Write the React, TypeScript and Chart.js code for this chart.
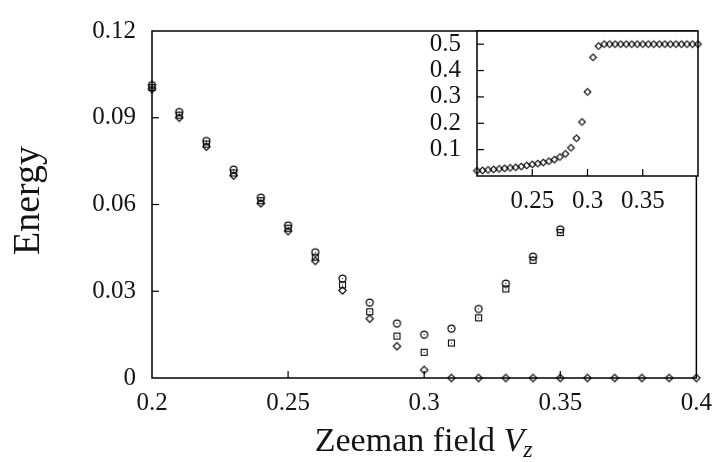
import React, { useEffect, useRef } from 'react';
import { Chart, registerables } from 'chart.js';

Chart.register(...registerables);

// ---------- data (main panel) ----------
const fieldVz = [0.20, 0.21, 0.22, 0.23, 0.24, 0.25, 0.26, 0.27, 0.28, 0.29, 0.30, 0.31, 0.32, 0.33, 0.34, 0.35, 0.36, 0.37, 0.38, 0.39, 0.40];
const energyCircle = [0.1013, 0.0920, 0.0820, 0.0721, 0.0624, 0.0528, 0.0435, 0.0344, 0.0261, 0.0189, 0.0150, 0.0171, 0.0239, 0.0327, 0.0420, 0.0514];
const energySquare = [0.1005, 0.0909, 0.0809, 0.0709, 0.0613, 0.0518, 0.0418, 0.0322, 0.0229, 0.0145, 0.0089, 0.0121, 0.0208, 0.0308, 0.0407, 0.0503];
const energyDiamond = [0.0999, 0.0900, 0.0800, 0.0700, 0.0604, 0.0508, 0.0405, 0.0303, 0.0205, 0.0110, 0.0028, 0, 0, 0, 0, 0, 0, 0, 0, 0, 0];

const xTicksMain = [0.2, 0.25, 0.3, 0.35, 0.4];
const xTickLabelsMain = ['0.2', '0.25', '0.3', '0.35', '0.4'];
const yTicksMain = [0, 0.03, 0.06, 0.09, 0.12];
const yTickLabelsMain = ['0', '0.03', '0.06', '0.09', '0.12'];

// ---------- data (inset) ----------
const insetVz = [0.200, 0.205, 0.210, 0.215, 0.220, 0.225, 0.230, 0.235, 0.240, 0.245, 0.250, 0.255, 0.260, 0.265, 0.270, 0.275, 0.280, 0.285, 0.290, 0.295, 0.300, 0.305, 0.310, 0.315, 0.320, 0.325, 0.330, 0.335, 0.340, 0.345, 0.350, 0.355, 0.360, 0.365, 0.370, 0.375, 0.380, 0.385, 0.390, 0.395, 0.400];
const insetValues = [0.020, 0.021, 0.023, 0.025, 0.027, 0.029, 0.031, 0.033, 0.036, 0.040, 0.044, 0.047, 0.051, 0.056, 0.062, 0.072, 0.084, 0.107, 0.143, 0.205, 0.319, 0.450, 0.493, 0.5, 0.5, 0.5, 0.5, 0.5, 0.5, 0.5, 0.5, 0.5, 0.5, 0.5, 0.5, 0.5, 0.5, 0.5, 0.5, 0.5, 0.5];

const xTicksInset = [0.25, 0.3, 0.35];
const xTickLabelsInset = ['0.25', '0.3', '0.35'];
const yTicksInset = [0.1, 0.2, 0.3, 0.4, 0.5];
const yTickLabelsInset = ['0.1', '0.2', '0.3', '0.4', '0.5'];

const xTitle = 'Zeeman field ';
const xTitleVar = 'V';
const xTitleSub = 'z';
const yTitle = 'Energy';

const FONT = '"Liberation Serif", "Times New Roman", serif';
const INK = '#141414';

function makeMarker(kind: string, size: number): HTMLCanvasElement {
  const c = document.createElement('canvas');
  c.width = size;
  c.height = size;
  const g = c.getContext('2d') as CanvasRenderingContext2D;
  g.strokeStyle = '#000';
  g.fillStyle = '#000';
  g.lineWidth = 1;
  const m = size / 2;
  if (kind === 'circle') {
    g.lineWidth = 1.25;
    g.beginPath();
    g.arc(m, m, 3.5, 0, Math.PI * 2);
    g.stroke();
    g.fillRect(Math.floor(m), Math.floor(m), 1, 1);
  } else if (kind === 'square') {
    g.lineWidth = 1.1;
    g.strokeRect(m - 3, m - 3, 6, 6);
    g.fillRect(Math.floor(m), Math.floor(m), 1, 1);
  } else {
    const r = kind === 'smallDiamond' ? 3.3 : 3.7;
    g.lineWidth = 1.15;
    g.beginPath();
    g.moveTo(m, m - r);
    g.lineTo(m + r, m);
    g.lineTo(m, m + r);
    g.lineTo(m - r, m);
    g.closePath();
    g.stroke();
  }
  return c;
}

const framePlugin = {
  id: 'frame',
  beforeDraw(chart: any, _args: any, opts: any) {
    if (!opts.fill) return;
    const { ctx, chartArea: a } = chart;
    ctx.save();
    ctx.fillStyle = '#ffffff';
    ctx.fillRect(a.left, a.top, a.right - a.left, a.bottom - a.top);
    ctx.restore();
  },
  beforeDatasetsDraw(chart: any, _args: any, opts: any) {
    const { ctx, chartArea: a, scales } = chart;
    ctx.save();
    ctx.strokeStyle = '#000';
    ctx.lineWidth = 1.5;
    ctx.strokeRect(a.left, a.top, a.right - a.left, a.bottom - a.top);
    ctx.lineWidth = 1.2;
    const len = 7;
    (opts.xTicks || []).forEach((v: number) => {
      const px = scales.x.getPixelForValue(v);
      ctx.beginPath();
      ctx.moveTo(px, a.bottom);
      ctx.lineTo(px, a.bottom - len);
      ctx.stroke();
    });
    (opts.yTicks || []).forEach((v: number) => {
      const py = scales.y.getPixelForValue(v);
      ctx.beginPath();
      ctx.moveTo(a.left, py);
      ctx.lineTo(a.left + len, py);
      ctx.stroke();
    });
    ctx.restore();
  },
};

const titlesPlugin = {
  id: 'titles',
  afterDraw(chart: any) {
    const { ctx, chartArea: a } = chart;
    ctx.save();
    ctx.fillStyle = INK;
    // y title
    ctx.font = `38px ${FONT}`;
    ctx.textAlign = 'center';
    ctx.textBaseline = 'alphabetic';
    ctx.translate(39, (a.top + a.bottom) / 2 - 4);
    ctx.rotate(-Math.PI / 2);
    ctx.fillText(yTitle, 0, 0);
    ctx.restore();

    ctx.save();
    ctx.fillStyle = INK;
    ctx.textBaseline = 'alphabetic';
    ctx.textAlign = 'left';
    const mainFont = `34px ${FONT}`;
    const varFont = `italic 34px ${FONT}`;
    const subFont = `italic 24px ${FONT}`;
    ctx.font = mainFont;
    const w1 = ctx.measureText(xTitle).width;
    ctx.font = varFont;
    const w2 = ctx.measureText(xTitleVar).width;
    ctx.font = subFont;
    const w3 = ctx.measureText(xTitleSub).width;
    const total = w1 + w2 + w3;
    const cx = (a.left + a.right) / 2;
    const base = 451;
    let x = cx - total / 2;
    ctx.font = mainFont;
    ctx.fillText(xTitle, x, base);
    x += w1;
    ctx.font = varFont;
    ctx.fillText(xTitleVar, x, base);
    x += w2 - 1;
    ctx.font = subFont;
    ctx.fillText(xTitleSub, x, base + 6);
    ctx.restore();
  },
};

function pts(xs: number[], ys: number[]) {
  return ys.map((y, i) => ({ x: xs[i], y }));
}

function tickFont() {
  return { family: FONT, size: 25 };
}

export default function App() {
  const mainRef = useRef<HTMLCanvasElement>(null);
  const insetRef = useRef<HTMLCanvasElement>(null);

  useEffect(() => {
    const circle = makeMarker('circle', 11);
    const square = makeMarker('square', 11);
    const diamond = makeMarker('diamond', 11);
    const smallDiamond = makeMarker('smallDiamond', 11);

    const main = new Chart(mainRef.current as HTMLCanvasElement, {
      type: 'scatter',
      data: {
        datasets: [
          { data: pts(fieldVz, energyCircle), pointStyle: circle as any, pointRadius: 4, clip: false as any },
          { data: pts(fieldVz, energySquare), pointStyle: square as any, pointRadius: 4, clip: false as any },
          { data: pts(fieldVz, energyDiamond), pointStyle: diamond as any, pointRadius: 4, clip: false as any },
        ],
      },
      options: {
        responsive: false,
        animation: false,
        devicePixelRatio: 1,
        layout: { padding: { left: 0, top: 25, right: 24, bottom: 0 } },
        plugins: {
          legend: { display: false },
          tooltip: { enabled: false },
          frame: { xTicks: xTicksMain.slice(1, -1), yTicks: yTicksMain.slice(1, -1), fill: false },
        } as any,
        scales: {
          x: {
            type: 'linear',
            min: 0.2,
            max: 0.4,
            grid: { display: false, drawTicks: false },
            border: { display: false },
            afterBuildTicks: (s: any) => { s.ticks = xTicksMain.map((value) => ({ value })); },
            afterFit: (s: any) => { s.height = 84; },
            ticks: {
              autoSkip: false,
              maxRotation: 0,
              padding: 10,
              color: INK,
              font: tickFont(),
              callback: (_v: any, i: number) => xTickLabelsMain[i],
            },
          },
          y: {
            type: 'linear',
            min: 0,
            max: 0.12,
            grid: { display: false, drawTicks: false },
            border: { display: false },
            afterBuildTicks: (s: any) => { s.ticks = yTicksMain.map((value) => ({ value })); },
            afterFit: (s: any) => { s.width = 152; },
            ticks: {
              autoSkip: false,
              padding: 16,
              color: INK,
              font: tickFont(),
              callback: (_v: any, i: number) => yTickLabelsMain[i],
            },
          },
        },
      },
      plugins: [framePlugin, titlesPlugin],
    });

    const inset = new Chart(insetRef.current as HTMLCanvasElement, {
      type: 'scatter',
      data: {
        datasets: [
          { data: pts(insetVz, insetValues), pointStyle: smallDiamond as any, pointRadius: 4, clip: false as any },
        ],
      },
      options: {
        responsive: false,
        animation: false,
        devicePixelRatio: 1,
        layout: { padding: { left: 417, top: 25, right: 24, bottom: 246 } },
        plugins: {
          legend: { display: false },
          tooltip: { enabled: false },
          frame: { xTicks: xTicksInset, yTicks: yTicksInset, fill: true },
        } as any,
        scales: {
          x: {
            type: 'linear',
            min: 0.2,
            max: 0.4,
            grid: { display: false, drawTicks: false },
            border: { display: false },
            afterBuildTicks: (s: any) => { s.ticks = xTicksInset.map((value) => ({ value })); },
            afterFit: (s: any) => { s.height = 40; },
            ticks: {
              autoSkip: false,
              maxRotation: 0,
              padding: 10,
              color: INK,
              font: tickFont(),
              callback: (_v: any, i: number) => xTickLabelsInset[i],
            },
          },
          y: {
            type: 'linear',
            min: 0,
            max: 0.55,
            grid: { display: false, drawTicks: false },
            border: { display: false },
            afterBuildTicks: (s: any) => { s.ticks = yTicksInset.map((value) => ({ value })); },
            afterFit: (s: any) => { s.width = 60; },
            ticks: {
              autoSkip: false,
              padding: 16,
              color: INK,
              font: tickFont(),
              callback: (_v: any, i: number) => yTickLabelsInset[i],
            },
          },
        },
      },
      plugins: [framePlugin],
    });

    return () => {
      main.destroy();
      inset.destroy();
    };
  }, []);

  const canvasStyle: React.CSSProperties = { position: 'absolute', left: 0, top: 0, width: 722, height: 462 };
  return (
    <div style={{ position: 'absolute', left: 0, top: 0, width: 722, height: 462, background: '#fff' }}>
      <canvas ref={mainRef} width={722} height={462} style={canvasStyle} />
      <canvas ref={insetRef} width={722} height={462} style={canvasStyle} />
    </div>
  );
}
